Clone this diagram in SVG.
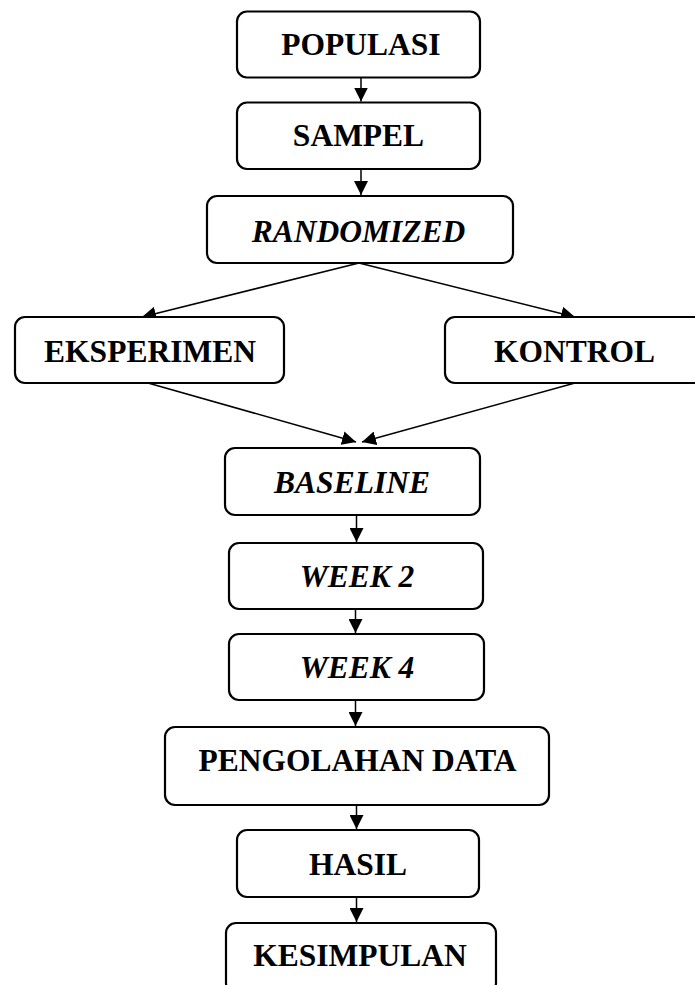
<svg xmlns="http://www.w3.org/2000/svg" width="695" height="985" viewBox="0 0 695 985">
<style>
.box{fill:#fff;stroke:#000;stroke-width:2.2}
.t{font-family:"Liberation Serif","Times New Roman",serif;font-weight:bold;font-size:31.5px;fill:#000;text-anchor:middle}
.i{font-style:italic}
.c{fill:none;stroke:#000;stroke-width:1.5;marker-end:url(#ah)}
</style>
<defs>
<marker id="ah" markerUnits="userSpaceOnUse" markerWidth="15" markerHeight="14" refX="14" refY="7" orient="auto" viewBox="0 0 15 14">
<path d="M0,0 L14,7 L0,14 z" fill="#000"/>
</marker>
</defs>
<rect width="695" height="985" fill="#fff"/>
<g id="connectors">
<line class="c" x1="361" y1="77.5" x2="361" y2="101.5"/>
<line class="c" x1="361" y1="169" x2="361" y2="195"/>
<line class="c" x1="359" y1="263" x2="142" y2="317"/>
<line class="c" x1="359" y1="263" x2="575" y2="317"/>
<line class="c" x1="148" y1="383" x2="356" y2="442"/>
<line class="c" x1="575" y1="383" x2="362" y2="442"/>
<line class="c" x1="356.5" y1="515" x2="356.5" y2="542"/>
<line class="c" x1="355.5" y1="609" x2="355.5" y2="633"/>
<line class="c" x1="355.5" y1="700" x2="355.5" y2="726"/>
<line class="c" x1="356.5" y1="805" x2="356.5" y2="829"/>
<line class="c" x1="356.5" y1="897" x2="356.5" y2="922"/>
</g>
<g id="populasi"><rect class="box" x="237" y="11.5" width="243" height="66" rx="10"/><text class="t" x="361" y="55">POPULASI</text></g>
<g id="sampel"><rect class="box" x="237" y="102.5" width="243" height="66.5" rx="10"/><text class="t" x="358.5" y="146">SAMPEL</text></g>
<g id="randomized"><rect class="box" x="207" y="196" width="306" height="67" rx="10"/><text class="t i" x="358.5" y="242">RANDOMIZED</text></g>
<g id="eksperimen"><rect class="box" x="15" y="317" width="269" height="66" rx="10"/><text class="t" x="150" y="362">EKSPERIMEN</text></g>
<g id="kontrol"><rect class="box" x="445" y="317" width="262" height="66" rx="10"/><text class="t" x="574.5" y="362">KONTROL</text></g>
<g id="baseline"><rect class="box" x="225" y="448" width="255" height="67" rx="10"/><text class="t i" x="352" y="493">BASELINE</text></g>
<g id="week2"><rect class="box" x="229" y="543" width="254" height="66" rx="10"/><text class="t i" x="357" y="586.5">WEEK 2</text></g>
<g id="week4"><rect class="box" x="229" y="634" width="255" height="66" rx="10"/><text class="t i" x="357" y="678">WEEK 4</text></g>
<g id="pengolahan"><rect class="box" x="165" y="727" width="384" height="78" rx="10"/><text class="t" x="357.5" y="771">PENGOLAHAN DATA</text></g>
<g id="hasil"><rect class="box" x="237" y="830" width="242" height="67" rx="10"/><text class="t" x="358" y="875">HASIL</text></g>
<g id="kesimpulan"><rect class="box" x="226" y="923" width="270" height="70" rx="10"/><text class="t" x="360" y="966">KESIMPULAN</text></g>
</svg>
